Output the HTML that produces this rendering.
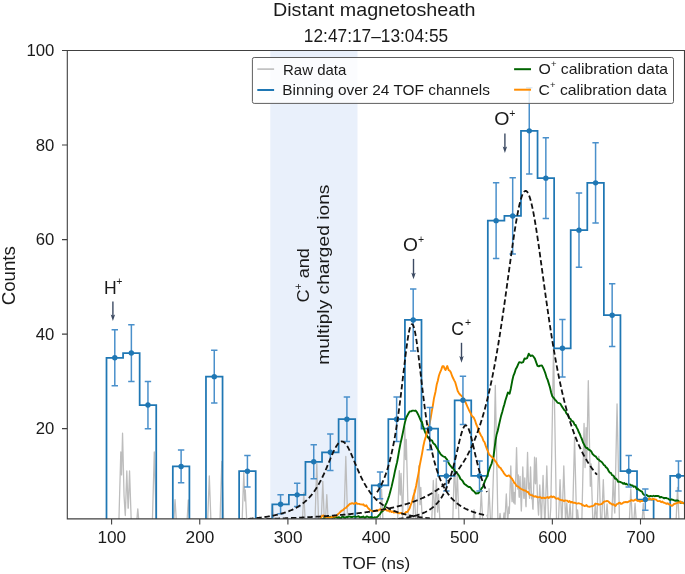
<!DOCTYPE html><html><head><meta charset="utf-8"><style>html,body{margin:0;padding:0;background:#fff;}svg{display:block;will-change:transform;}text{font-family:"Liberation Sans",sans-serif;fill:#1a1a1a;}</style></head><body>
<svg width="685" height="574" viewBox="0 0 685 574">
<defs><clipPath id="pc"><rect x="67.3" y="50.5" width="617.2" height="468.4"/></clipPath></defs>
<rect width="685" height="574" fill="#fff"/>
<rect x="270.3" y="50.5" width="87.2" height="468.4" fill="#e9f0fb"/>
<g clip-path="url(#pc)">
<path d="M118.55,526.2 L118.8,524.67 L120.8,452 L121.3,470.17 L121.55,474.9 L122.55,433.2 L124.05,495.76 L125.05,512.58 L125.3,515.56 L125.55,508.2 L126.8,470.9 L128.05,508.2 L128.3,508.2 L129.55,470.9 L131.3,523.13 L131.55,526.2 M136.3,526.2 L136.55,523.56 L137.8,508.8 L139.05,523.56 L139.3,526.2 M152.05,526.2 L152.3,524.67 L154.3,452 L156.3,524.67 L156.55,526.2 M173.3,526.2 L173.55,525.08 L175.05,499.6 L176.55,525.08 L176.8,526.2 M186.55,526.2 L186.8,525.16 L188.3,500 L189.8,525.16 L190.05,526.2 M207.3,526.2 L207.55,524.75 L209.3,476 L211.05,524.75 L211.3,526.2 M219.8,526.2 L220.05,519.65 L221.8,461.5 L223.55,519.65 L223.8,526.2 M241.8,526.2 L242.05,523.56 L243.8,472.2 L244.55,494.21 L244.8,500.89 L245.3,490 L246.8,522.67 L247.05,526.2 M270.8,526.2 L271.05,526.03 L272.55,505 L274.05,526.03 L274.3,526.2 M302.05,526.2 L302.3,523.49 L303.8,492.9 L305.3,523.49 L305.55,526.2 M314.8,526.2 L315.05,520.44 L316.8,463.5 L318.55,520.44 L318.8,526.2 M321.05,526.2 L322.8,481.3 L324.3,519.81 L324.55,526.2 M325.05,526.2 L325.3,523.93 L326.8,494.6 L328.3,523.93 L328.55,526.2 M343.8,526.2 L345.8,456.4 L347.55,517.54 L347.8,526.2 M379.8,526.2 L380.05,522.43 L381.55,489.2 L383.05,522.43 L383.3,526.2 M397.3,526.2 L397.55,523.02 L399.3,470.6 L400.05,493.07 L400.3,494.99 L401.05,473.3 L402.55,516.68 L402.8,513.56 L404.8,427 L405.55,459.46 L405.8,459.5 L406.3,439.5 L408.3,519.52 L408.55,526.2 M412.55,526.2 L412.8,522.67 L414.3,490 L415.8,522.67 L416.05,526.2 M416.8,526.2 L417.05,521.39 L418.8,466 L419.8,497.65 L420.05,504.71 L420.8,487.5 L422.3,521.91 L422.55,526.2 M431.3,526.2 L431.55,525.99 L433.3,480.4 L434.55,512.97 L434.8,518.8 L436.3,478.6 L437.55,512.1 L437.8,509.2 L438.55,494.5 L440.05,523.91 L440.3,526.2 M452.55,526.2 L452.8,519.37 L454.55,460.8 L455.8,502.64 L456.05,508.52 L457.3,471.5 L459.05,523.33 L459.3,526.2 M472.55,526.2 L472.8,523.78 L474.05,509.7 L475.3,523.78 L475.55,526.2 M479.55,526.2 L479.8,523.07 L481.3,491.4 L482.8,523.07 L483.05,526.2 M487.3,526.2 L487.55,522.28 L489.05,488.7 L490.55,522.28 L490.8,526.2 M491.55,526.2 L491.8,522.82 L493.55,470 L493.8,463.46 L495.3,385.5 L497.8,515.44 L498.05,526.2 M498.55,526.2 L498.8,524.6 L500.05,513.4 L501.3,524.6 L501.55,526.2 M502.55,526.2 L502.8,524.52 L504.05,513 L504.8,519.91 L505.05,518.82 L506.3,494 L507.55,518.82 L507.8,519.87 L508.8,507 L509.3,513.43 L510.8,466 L511.8,497.65 L512.05,501.71 L512.8,483 L513.55,501.71 L513.8,502.79 L514.3,492.5 L514.8,502.79 L515.05,504.12 L516.55,447.6 L517.55,485.28 L517.8,489.05 L518.3,474.9 L519.05,496.12 L519.3,497.24 L520.05,476.5 L521.3,511.07 L521.55,506.06 L522.8,466.9 L523.8,498.23 L524.05,498.29 L524.8,478 L525.8,505.05 L526.05,506.72 L527.55,452.4 L528.55,488.61 L528.8,483 L529.3,495.47 L529.55,498.23 L530.55,466.9 L531.55,498.23 L531.8,498.96 L532.05,494 L532.8,508.89 L533.05,509.21 L534.55,457.2 L535.3,483.21 L535.55,483.81 L536.3,458 L537.3,492.41 L537.55,499 L538.3,511.98 L538.55,515.08 L539.8,485 L541.3,521.1 L541.55,517.55 L543.05,475.4 L544.8,524.57 L545.05,521.39 L546.8,466 L548.55,521.39 L548.8,526.2 M549.3,526.2 L549.55,525.88 L550.55,511.29 L550.8,507 L553.55,348 L556.55,521.46 L556.8,526.2 M558.05,526.2 L558.3,525.8 L560.05,479.7 L561.8,525.8 L562.05,521.39 L563.8,466 L565.55,521.39 L565.8,518.14 L566.8,503 L568.3,525.72 L568.55,525.88 L570.05,504 L571.55,525.88 L571.8,526.2 M572.3,526.2 L572.55,518.84 L574.55,438 L576.55,518.84 L576.8,518.31 L577.55,510 L578.8,523.85 L579.05,526.2 M581.55,526.2 L581.8,522.76 L584.05,423.4 L585.05,467.56 L585.3,459.95 L586.05,427.6 L586.8,459.92 L588.3,380.7 L590.3,486.33 L590.55,480.02 L591.05,463.8 L592.8,520.56 L593.05,526.2 M593.55,526.2 L593.8,525.88 L595.3,504 L596.8,525.88 L597.05,517.49 L598.8,456.3 L600.55,517.49 L600.8,526.2 M601.3,526.2 L601.55,525.8 L603.3,479.7 L605.05,525.8 L605.3,526.2 M605.3,526.2 L605.55,525.88 L607.05,504 L608.55,525.88 L608.8,526.2 M611.3,526.2 L611.55,524.9 L613.3,476.5 L614.55,511.07 L614.8,513.02 L617.05,404 L619.55,525.13 L619.8,526.2 M629.05,526.2 L629.3,522.37 L630.8,489 L632.3,522.37 L632.55,526.2 M633.3,526.2 L633.55,525.78 L635.05,503.4 L636.55,525.78 L636.8,526.2 M641.55,526.2 L641.8,525.78 L643.3,503.4 L644.8,525.78 L645.05,526.2 M675.8,526.2 L676.05,521.88 L677.55,487.4 L679.05,521.88 L679.3,526.2" fill="none" stroke="#bdbdbd" stroke-width="1.3" stroke-linejoin="round"/>
<path d="M62.3,525.2 L106.5,525.2 L106.5,357.75 L123.08,357.75 L123.08,353.03 L139.66,353.03 L139.66,405.03 L156.24,405.03 L156.24,525.2 L172.82,525.2 L172.82,466.48 L189.4,466.48 L189.4,525.2 L205.97,525.2 L205.97,376.66 L222.55,376.66 L222.55,525.2 L239.13,525.2 L239.13,471.2 L255.71,471.2 L255.71,525.2 L272.29,525.2 L272.29,504.29 L288.87,504.29 L288.87,494.84 L305.45,494.84 L305.45,461.75 L322.03,461.75 L322.03,452.3 L338.61,452.3 L338.61,419.21 L355.19,419.21 L355.19,525.2 L371.76,525.2 L371.76,485.38 L388.34,485.38 L388.34,419.21 L404.92,419.21 L404.92,319.94 L421.5,319.94 L421.5,428.66 L438.08,428.66 L438.08,475.93 L454.66,475.93 L454.66,400.3 L471.24,400.3 L471.24,475.93 L487.82,475.93 L487.82,220.67 L504.4,220.67 L504.4,215.95 L520.98,215.95 L520.98,130.86 L537.55,130.86 L537.55,178.13 L554.13,178.13 L554.13,348.3 L570.71,348.3 L570.71,230.13 L587.29,230.13 L587.29,182.86 L603.87,182.86 L603.87,315.21 L620.45,315.21 L620.45,471.2 L637.03,471.2 L637.03,499.57 L653.61,499.57 L653.61,525.2 L670.19,525.2 L670.19,475.93 L686.76,475.93" fill="none" stroke="#1f77b4" stroke-width="1.75" stroke-linejoin="miter"/>
<path d="M322,518.95 L322.53,519.46 L323.47,518.57 L325.6,517.23 L326.3,517.53 L327.1,517.42 L327.99,517.69 L328.96,517.88 L329.99,516.84 L331.07,516.74 L332.19,517.97 L333.34,517.38 L334.5,517.88 L335.65,516.76 L336.79,517.43 L337.91,517.85 L338.98,517.11 L340,518.17 L341.05,518.08 L342.06,516.74 L343.05,516.69 L344.03,517.42 L345,517.97 L345.96,517.09 L346.93,516.8 L347.91,517.06 L348.92,516.42 L349.95,516.67 L351.02,516.96 L352.14,517.02 L353.3,516.6 L354.25,516.58 L355.26,516.55 L356.33,516.91 L357.44,516.64 L358.59,516.24 L359.75,517.46 L360.93,517.03 L362.11,517.16 L363.28,516.48 L364.43,517.69 L365.55,517.5 L366.63,516.39 L367.65,516.72 L368.61,517.31 L369.5,517.3 L370.3,517.65 L371,516.88 L373.05,517.63 L374.07,517.61 L374.68,517.18 L375.5,517.43 L376.63,517.37 L377.76,516.56 L378.88,515.11 L380,514.13 L381.07,512.23 L382.11,511.42 L383.2,510.73 L384.4,507.87 L385.5,505 L386.71,502.55 L387.95,499.41 L389.17,495.77 L390.3,491.61 L391.6,486.63 L392.83,481.16 L393.97,476.09 L395,470.93 L396.14,465.93 L397.1,462.14 L398,457.29 L399.29,449.64 L400.5,443.31 L401.59,438.7 L402.8,433.04 L403.88,427.66 L405.09,421.65 L406.3,417.5 L407.5,415.26 L408.7,412.99 L409.8,411.36 L411.12,411.34 L412.4,410.6 L413.45,410.66 L414.56,410.92 L415.6,410.52 L416.88,412.16 L418.1,414.45 L419.53,417.58 L420.9,420.99 L421.94,422.01 L422.9,425.73 L423.95,428.84 L425.1,432.08 L426.38,434.79 L427.9,437.56 L428.85,438.22 L429.92,439.24 L431.02,439.99 L432.1,440.53 L433.13,443.02 L434.15,443.92 L435.17,444.82 L436.2,446.81 L437.21,448.48 L438.21,450.13 L439.25,451.93 L440.4,453.86 L441.45,455.08 L442.61,456.01 L443.79,456.68 L444.95,456.96 L446,458.29 L447.12,459.68 L448.1,461.85 L449.08,463.89 L450.2,465.45 L451.24,466.79 L452.38,468.2 L453.56,468.75 L454.72,471.03 L455.8,472.16 L457.01,472.97 L458.14,474.56 L459.28,476.25 L460.5,479.08 L461.61,479.81 L462.81,481.2 L464.02,483.53 L465.18,484.49 L466.2,485.15 L467.55,486.16 L468.67,486.96 L469.8,486.9 L471.03,488.13 L472.26,490.09 L473.5,490.93 L474.71,492.08 L475.91,493.59 L477.2,493.29 L478.25,493.23 L479.35,492.11 L480.48,490.18 L481.6,488.21 L482.72,487.22 L483.85,484.08 L484.98,480.87 L486.1,478.66 L487.24,476.08 L488.39,471.83 L489.5,468.78 L490.5,466.07 L491.64,463.6 L492.62,459.61 L493.5,456.61 L494.46,449.02 L495.6,440.07 L496.54,434.84 L497.66,430.94 L498.87,425.55 L500.1,420.12 L501.14,415.63 L502.25,412.09 L503.37,407.64 L504.42,404.2 L505.3,400.73 L506.82,396 L507.9,392.44 L509.6,393.7 L510.84,388.41 L512.3,380.56 L513.38,375.86 L514.53,373.24 L515.7,369.32 L516.89,367.28 L518.1,364.35 L519.2,362.17 L520.55,362.34 L521.8,362.76 L523.15,362.11 L524.5,358.51 L525.86,358.75 L527.1,358.09 L528.8,353.71 L530.5,356.01 L532.3,355.35 L533.55,356.67 L534.9,358.61 L536.2,362.43 L537.5,365.92 L538.85,366.41 L540.1,365.66 L541.9,365.56 L542.94,367.36 L544.18,370.22 L545.4,373.41 L546.54,377.29 L547.66,379.88 L548.8,383.6 L549.99,387.47 L551.2,392.7 L552.3,396.3 L553.66,397.83 L554.9,399.65 L556.12,400.8 L557.4,402.53 L558.36,402.96 L559.39,403.14 L560.5,404.07 L561.66,406.12 L562.91,407.98 L564.4,410.25 L565.29,410.73 L566.27,413.11 L567.31,414.51 L568.39,415.94 L569.46,418.38 L570.5,418.8 L571.53,420.89 L572.57,421.15 L573.61,422.44 L574.63,424.76 L575.64,425.04 L576.6,427.39 L577.72,429.39 L578.83,432.32 L579.89,434.29 L580.88,436.78 L581.8,438.89 L583.03,442.54 L584.07,444.35 L585.3,446.88 L586.23,447.94 L587.26,447.86 L588.34,449.48 L589.43,449.8 L590.5,450.71 L591.51,451.77 L592.49,453.94 L593.49,454.82 L594.54,455.94 L595.7,456.36 L596.65,457.72 L597.71,459.04 L598.82,459.56 L599.93,460.97 L600.99,461.5 L601.93,462.22 L602.7,463.25 L603.85,464.99 L605,465.6 L605.74,467.1 L606.62,467.63 L607.61,468.76 L608.67,471.03 L609.78,472.62 L610.9,472.85 L612,475.16 L612.97,475.36 L613.97,476.49 L614.99,478.71 L616.02,478.49 L617.07,479.76 L618.12,481.78 L619.17,481.72 L620.2,481.92 L621.22,482.48 L622.22,482.9 L623.23,483.84 L624.23,482.99 L625.24,484.29 L626.27,483.61 L627.32,484.69 L628.4,484.91 L629.39,484.37 L630.41,484.73 L631.46,485.52 L632.52,485.45 L633.58,486.81 L634.64,486.44 L635.69,486.97 L636.71,489.02 L637.7,488.59 L638.79,489.8 L639.88,490.43 L640.96,491.14 L642.02,491.69 L643.05,493.87 L644.04,494.77 L645,495.47 L645.9,494.72 L647.16,495.36 L648.22,496.11 L649.24,496.62 L650.35,495.91 L651.7,496.18 L652.59,496.24 L653.57,495.73 L654.61,496.25 L655.7,496.01 L656.81,496.03 L657.93,495.91 L659.03,496.35 L660.09,497.56 L661.1,496.92 L662.17,497.44 L663.21,497.67 L664.23,498.38 L665.23,497.83 L666.21,497.99 L667.2,498.3 L668.19,498.56 L669.2,499.62 L670.25,499.95 L671.35,499.32 L672.47,499.62 L673.58,500.19 L674.66,500.49 L675.67,500.76 L676.59,500.48 L677.4,500.38 L678.89,501.37 L679.87,501.75 L681,502.98 L681.99,502.46 L683.14,502.62 L684.29,503.56 L685.3,503.12 L686,503.5" fill="none" stroke="#006400" stroke-width="1.9" stroke-linejoin="round"/>
<path d="M320,519.68 L320.74,518.72 L321.86,516.11 L323.4,515.38 L324.21,516.54 L325.12,516.66 L326.12,516.94 L327.18,516.82 L328.29,517.62 L329.44,517.82 L330.6,517.72 L331.53,516.86 L332.51,516.94 L333.53,516.46 L334.56,516.46 L335.61,516.31 L336.66,515.63 L337.7,514.38 L338.72,513.58 L339.7,512.65 L340.78,511.5 L341.86,510.57 L342.93,510.24 L343.99,509 L345.02,508.1 L346.02,507.93 L346.98,506.54 L347.9,505.89 L349.04,504.67 L350.09,503.76 L351.07,503.75 L352.04,503.11 L353,503.41 L354,503.95 L355.03,503.36 L356.06,502.63 L357.1,503.8 L358.14,503.82 L359.17,503.93 L360.2,504.41 L361.24,504.42 L362.31,504.7 L363.37,504.33 L364.4,505.61 L365.39,505.99 L366.3,505.29 L367.49,507.25 L368.54,508.54 L369.54,509.44 L370.6,510.45 L371.73,510.78 L372.89,511.51 L374.07,510.77 L375.3,511.1 L376.35,510.17 L377.46,510.64 L378.57,510.3 L379.64,509.33 L380.6,509.3 L381.86,509.83 L382.94,509.74 L384.2,509.68 L385.15,509.49 L386.19,509.91 L387.29,510.76 L388.41,510.24 L389.5,511.61 L390.58,510.88 L391.66,512.07 L392.74,511.38 L393.82,512.56 L394.9,512.41 L396,512.36 L397.11,512.65 L398.21,513.12 L399.26,513.26 L400.2,513.02 L401.5,513.05 L402.59,513.57 L403.7,514.05 L404.9,513.26 L406.1,511.89 L407.3,511.98 L408.5,510.19 L409.7,508.34 L410.8,504.84 L412.2,501.49 L413.5,495.74 L414.8,492 L416.2,485.46 L417.3,479.52 L418.5,473.62 L419.7,465.61 L420.9,459.53 L422.1,453.34 L423.3,446.32 L424.5,440.88 L425.7,437.07 L426.8,432.28 L428.09,429.49 L429.5,423.8 L430.54,418.84 L431.74,411.53 L432.95,405.07 L434,398.17 L435.55,391.45 L436.8,384.19 L437.81,380.79 L438.9,375.78 L440.01,372.56 L441.29,369.66 L442.4,366.19 L443.61,366.18 L444.5,368.39 L445.5,370.03 L447.3,366.01 L448.7,370.24 L449.75,370.68 L450.8,372.3 L452.2,376.27 L453.16,378.25 L454.2,380.36 L455.29,382.39 L456.3,385.96 L457.7,391.1 L459.01,393.3 L460.5,395 L461.9,396.18 L463.3,398 L464.7,400.32 L466.1,403.54 L467.5,406.81 L468.9,409.96 L470.27,412.47 L471.7,415.74 L472.75,416.69 L473.85,417.78 L475,420.32 L476.13,424.01 L477.3,426.56 L478.7,431.03 L479.75,432.97 L480.93,435.43 L482.17,437.19 L483.39,440.75 L484.5,442.04 L485.68,445.63 L486.74,448.55 L487.8,450.98 L489,454.39 L489.93,455.15 L490.95,456.19 L492.01,457.18 L493.06,458.3 L494.08,459.12 L495,460.9 L496.18,462.17 L497.21,464.26 L498.23,465.63 L499.4,467.34 L500.51,467.8 L501.72,469.95 L502.97,471.52 L504.19,473.69 L505.3,474.99 L506.53,475.98 L507.64,475.96 L508.71,475.36 L509.8,476.18 L510.87,477.65 L511.91,478.58 L513,480.48 L514.2,482.76 L515.28,483.6 L516.45,485.82 L517.67,486.34 L518.9,487.26 L520.1,488.32 L521.28,489.06 L522.45,489.46 L523.63,490.24 L524.81,490.52 L526,490.81 L527.03,491.95 L528.11,492.06 L529.19,493.91 L530.24,494.79 L531.22,495.17 L532.1,495.3 L533.43,496.15 L534.49,496.67 L535.8,496.23 L536.84,497.02 L538.01,497.4 L539.24,497.08 L540.49,497.1 L541.7,498.25 L542.86,497.6 L544.02,497.76 L545.18,498.25 L546.34,497.66 L547.5,497.08 L548.69,498.02 L549.92,496.98 L551.13,496.34 L552.3,497.3 L553.4,496.5 L554.61,497.13 L555.7,498.42 L556.79,498.73 L558,498.27 L559.14,499.35 L560.38,499.75 L561.65,500.32 L562.85,500.29 L563.9,501.13 L565.24,500.47 L566.32,500.67 L567.4,500.81 L568.48,501.93 L569.56,501.05 L570.9,502.48 L571.93,501.87 L573.11,502.68 L574.35,502.65 L575.57,503 L576.7,503.68 L577.9,503.43 L578.98,503.3 L580.09,503.6 L581.4,503.87 L582.3,505.26 L583.32,505.21 L584.39,505.97 L585.48,505.85 L586.54,505.11 L587.53,506.28 L588.4,506.62 L589.66,506.71 L590.71,506.45 L591.63,506.19 L592.5,506.14 L593.91,505.5 L595.4,503.55 L596.45,503.83 L597.64,503.85 L598.88,504.68 L600.1,504.36 L601.3,504.13 L602.53,503.37 L603.71,501.94 L604.8,501.4 L605.96,501.4 L606.99,500.88 L608.3,501.39 L609.17,502.22 L610.16,503.26 L611.22,503.57 L612.3,504.7 L613.35,504.24 L614.3,504.98 L615.51,505.89 L616.59,504.13 L617.69,503.89 L619,502.85 L619.87,502.69 L620.8,503.75 L621.78,503.74 L622.8,503.09 L623.85,502.15 L624.92,502.22 L626,501.9 L626.98,502.3 L628.02,501.99 L629.09,501.28 L630.17,501.04 L631.25,500.08 L632.29,500.42 L633.28,500.81 L634.2,500.38 L635.51,499.43 L636.69,500.33 L637.79,500.98 L638.87,500.6 L640,501.69 L641.16,500.96 L642.3,501.11 L643.46,500.39 L644.65,500.99 L645.9,500.42 L646.84,499.95 L647.82,499.11 L648.82,499.36 L649.84,498.57 L650.87,499.28 L651.89,499.65 L652.9,498.62 L653.91,499.25 L654.93,499.44 L655.96,499.62 L656.98,500.42 L657.99,501.11 L658.96,501.11 L659.9,501.06 L661.12,502.16 L662.25,501.56 L663.35,502.52 L664.48,502.75 L665.7,503.29 L666.66,503.78 L667.68,503.26 L668.74,504.31 L669.8,504.41 L670.83,505.16 L671.81,505.86 L672.7,505.4 L673.95,504.03 L674.95,503.8 L676,503.22 L677.4,502.87 L678.35,502.44 L679.48,502.69 L680.72,501.57 L681.99,503.08 L683.23,502.91 L684.36,502.87 L685.31,503.44 L686,502.9" fill="none" stroke="#ff8c00" stroke-width="1.9" stroke-linejoin="round"/>
<path d="M114.79,329.79 V385.72 M111.59,329.79 H117.99 M111.59,385.72 H117.99 M131.37,324.67 V381.39 M128.17,324.67 H134.57 M128.17,381.39 H134.57 M147.95,381.39 V428.66 M144.75,381.39 H151.15 M144.75,428.66 H151.15 M181.11,450.1 V482.85 M177.91,450.1 H184.31 M177.91,482.85 H184.31 M214.26,350.34 V402.98 M211.06,350.34 H217.46 M211.06,402.98 H217.46 M247.42,455.53 V486.88 M244.22,455.53 H250.62 M244.22,486.88 H250.62 M280.58,494.84 V513.75 M277.38,494.84 H283.78 M277.38,513.75 H283.78 M297.16,483.26 V506.42 M293.96,483.26 H300.36 M293.96,506.42 H300.36 M313.74,444.71 V478.79 M310.54,444.71 H316.94 M310.54,478.79 H316.94 M330.32,433.99 V470.6 M327.12,433.99 H333.52 M327.12,470.6 H333.52 M346.9,397.03 V441.38 M343.7,397.03 H350.1 M343.7,441.38 H350.1 M380.05,472.01 V498.75 M376.85,472.01 H383.25 M376.85,498.75 H383.25 M396.63,397.03 V441.38 M393.43,397.03 H399.83 M393.43,441.38 H399.83 M413.21,288.94 V350.94 M410.01,288.94 H416.41 M410.01,350.94 H416.41 M429.79,407.52 V449.8 M426.59,407.52 H432.99 M426.59,449.8 H432.99 M446.37,460.98 V490.88 M443.17,460.98 H449.57 M443.17,490.88 H449.57 M462.95,376.19 V424.4 M459.75,376.19 H466.15 M459.75,424.4 H466.15 M479.53,460.98 V490.88 M476.33,460.98 H482.73 M476.33,490.88 H482.73 M496.11,182.86 V258.49 M492.91,182.86 H499.31 M492.91,258.49 H499.31 M512.69,177.83 V254.06 M509.49,177.83 H515.89 M509.49,254.06 H515.89 M529.26,87.79 V173.92 M526.06,87.79 H532.46 M526.06,173.92 H532.46 M545.84,137.74 V218.52 M542.64,137.74 H549.04 M542.64,218.52 H549.04 M562.42,319.55 V377.05 M559.22,319.55 H565.62 M559.22,377.05 H565.62 M579,192.91 V267.35 M575.8,192.91 H582.2 M575.8,267.35 H582.2 M595.58,142.75 V222.97 M592.38,142.75 H598.78 M592.38,222.97 H598.78 M612.16,283.86 V346.57 M608.96,283.86 H615.36 M608.96,346.57 H615.36 M628.74,455.53 V486.88 M625.54,455.53 H631.94 M625.54,486.88 H631.94 M645.32,489 V510.13 M642.12,489 H648.52 M642.12,510.13 H648.52 M678.48,460.98 V490.88 M675.28,460.98 H681.68 M675.28,490.88 H681.68" fill="none" stroke="#4a90cb" stroke-width="1.5"/>
<g fill="#1f77b4"><circle cx="114.79" cy="357.75" r="2.7"/><circle cx="131.37" cy="353.03" r="2.7"/><circle cx="147.95" cy="405.03" r="2.7"/><circle cx="181.11" cy="466.48" r="2.7"/><circle cx="214.26" cy="376.66" r="2.7"/><circle cx="247.42" cy="471.2" r="2.7"/><circle cx="280.58" cy="504.29" r="2.7"/><circle cx="297.16" cy="494.84" r="2.7"/><circle cx="313.74" cy="461.75" r="2.7"/><circle cx="330.32" cy="452.3" r="2.7"/><circle cx="346.9" cy="419.21" r="2.7"/><circle cx="380.05" cy="485.38" r="2.7"/><circle cx="396.63" cy="419.21" r="2.7"/><circle cx="413.21" cy="319.94" r="2.7"/><circle cx="429.79" cy="428.66" r="2.7"/><circle cx="446.37" cy="475.93" r="2.7"/><circle cx="462.95" cy="400.3" r="2.7"/><circle cx="479.53" cy="475.93" r="2.7"/><circle cx="496.11" cy="220.67" r="2.7"/><circle cx="512.69" cy="215.95" r="2.7"/><circle cx="529.26" cy="130.86" r="2.7"/><circle cx="545.84" cy="178.13" r="2.7"/><circle cx="562.42" cy="348.3" r="2.7"/><circle cx="579" cy="230.13" r="2.7"/><circle cx="595.58" cy="182.86" r="2.7"/><circle cx="612.16" cy="315.21" r="2.7"/><circle cx="628.74" cy="471.2" r="2.7"/><circle cx="645.32" cy="499.57" r="2.7"/><circle cx="678.48" cy="475.93" r="2.7"/></g>
<path d="M240,519.55 L240.5,519.52 L241,519.48 L241.5,519.45 L242,519.41 L242.5,519.37 L243,519.34 L243.5,519.3 L244,519.26 L244.5,519.22 L245,519.18 L245.5,519.14 L246,519.1 L246.5,519.06 L247,519.02 L247.5,518.98 L248,518.94 L248.5,518.89 L249,518.85 L249.5,518.8 L250,518.76 L250.5,518.71 L251,518.67 L251.5,518.62 L252,518.57 L252.5,518.52 L253,518.47 L253.5,518.42 L254,518.37 L254.5,518.32 L255,518.26 L255.5,518.21 L256,518.16 L256.5,518.1 L257,518.04 L257.5,517.99 L258,517.93 L258.5,517.87 L259,517.81 L259.5,517.75 L260,517.68 L260.5,517.62 L261,517.56 L261.5,517.49 L262,517.42 L262.5,517.36 L263,517.29 L263.5,517.22 L264,517.15 L264.5,517.07 L265,517 L265.5,516.92 L266,516.85 L266.5,516.77 L267,516.69 L267.5,516.61 L268,516.53 L268.5,516.44 L269,516.36 L269.5,516.27 L270,516.18 L270.5,516.09 L271,516 L271.5,515.91 L272,515.81 L272.5,515.71 L273,515.61 L273.5,515.51 L274,515.41 L274.5,515.3 L275,515.2 L275.5,515.09 L276,514.98 L276.5,514.86 L277,514.75 L277.5,514.63 L278,514.51 L278.5,514.39 L279,514.26 L279.5,514.13 L280,514 L280.5,513.87 L281,513.73 L281.5,513.59 L282,513.45 L282.5,513.31 L283,513.16 L283.5,513.01 L284,512.85 L284.5,512.69 L285,512.53 L285.5,512.37 L286,512.2 L286.5,512.03 L287,511.85 L287.5,511.67 L288,511.48 L288.5,511.3 L289,511.1 L289.5,510.91 L290,510.7 L290.5,510.5 L291,510.28 L291.5,510.07 L292,509.85 L292.5,509.62 L293,509.39 L293.5,509.15 L294,508.91 L294.5,508.66 L295,508.4 L295.5,508.14 L296,507.87 L296.5,507.59 L297,507.31 L297.5,507.02 L298,506.73 L298.5,506.42 L299,506.11 L299.5,505.79 L300,505.46 L300.5,505.12 L301,504.78 L301.5,504.42 L302,504.06 L302.5,503.69 L303,503.3 L303.5,502.91 L304,502.51 L304.5,502.09 L305,501.67 L305.5,501.23 L306,500.78 L306.5,500.32 L307,499.85 L307.5,499.36 L308,498.86 L308.5,498.35 L309,497.83 L309.5,497.28 L310,496.73 L310.5,496.16 L311,495.57 L311.5,494.97 L312,494.35 L312.5,493.72 L313,493.07 L313.5,492.4 L314,491.71 L314.5,491 L315,490.28 L315.5,489.53 L316,488.77 L316.5,487.99 L317,487.19 L317.5,486.36 L318,485.52 L318.5,484.66 L319,483.77 L319.5,482.87 L320,481.94 L320.5,480.99 L321,480.02 L321.5,479.03 L322,478.02 L322.5,476.99 L323,475.94 L323.5,474.87 L324,473.78 L324.5,472.67 L325,471.55 L325.5,470.4 L326,469.25 L326.5,468.08 L327,466.9 L327.5,465.71 L328,464.51 L328.5,463.31 L329,462.1 L329.5,460.9 L330,459.69 L330.5,458.49 L331,457.3 L331.5,456.13 L332,454.96 L332.5,453.82 L333,452.7 L333.5,451.61 L334,450.55 L334.5,449.53 L335,448.55 L335.5,447.62 L336,446.74 L336.5,445.91 L337,445.14 L337.5,444.43 L338,443.79 L338.5,443.22 L339,442.73 L339.5,442.31 L340,441.97 L340.5,441.71 L341,441.53 L341.5,441.44 L342,441.43 L342.5,441.51 L343,441.67 L343.5,441.91 L344,442.23 L344.5,442.64 L345,443.12 L345.5,443.67 L346,444.3 L346.5,444.99 L347,445.75 L347.5,446.57 L348,447.44 L348.5,448.36 L349,449.33 L349.5,450.35 L350,451.4 L350.5,452.48 L351,453.6 L351.5,454.73 L352,455.89 L352.5,457.07 L353,458.25 L353.5,459.45 L354,460.66 L354.5,461.86 L355,463.07 L355.5,464.27 L356,465.47 L356.5,466.66 L357,467.85 L357.5,469.02 L358,470.17 L358.5,471.32 L359,472.45 L359.5,473.56 L360,474.65 L360.5,475.72 L361,476.78 L361.5,477.81 L362,478.83 L362.5,479.82 L363,480.8 L363.5,481.75 L364,482.68 L364.5,483.59 L365,484.48 L365.5,485.35 L366,486.2 L366.5,487.02 L367,487.83 L367.5,488.62 L368,489.38 L368.5,490.13 L369,490.86 L369.5,491.57 L370,492.26 L370.5,492.93 L371,493.59 L371.5,494.23 L372,494.85 L372.5,495.45 L373,496.04 L373.5,496.62 L374,497.17 L374.5,497.72 L375,498.25 L375.5,498.76 L376,499.26 L376.5,499.75 L377,500.23 L377.5,500.69 L378,501.14 L378.5,501.58 L379,502.01 L379.5,502.43 L380,502.83 L380.5,503.23 L381,503.61 L381.5,503.99 L382,504.35 L382.5,504.71 L383,505.06 L383.5,505.39 L384,505.72 L384.5,506.05 L385,506.36 L385.5,506.66 L386,506.96 L386.5,507.25 L387,507.54 L387.5,507.81 L388,508.08 L388.5,508.35 L389,508.6 L389.5,508.86 L390,509.1 L390.5,509.34 L391,509.57 L391.5,509.8 L392,510.02 L392.5,510.24 L393,510.45 L393.5,510.66 L394,510.87 L394.5,511.06 L395,511.26 L395.5,511.45 L396,511.63 L396.5,511.81 L397,511.99 L397.5,512.16 L398,512.33 L398.5,512.5 L399,512.66 L399.5,512.82 L400,512.98 L400.5,513.13 L401,513.28 L401.5,513.42 L402,513.57 L402.5,513.7 L403,513.84 L403.5,513.98 L404,514.11 L404.5,514.24 L405,514.36 L405.5,514.49 L406,514.61 L406.5,514.72 L407,514.84 L407.5,514.95 L408,515.07 L408.5,515.18 L409,515.28 L409.5,515.39 L410,515.49 L410.5,515.59 L411,515.69 L411.5,515.79 L412,515.89 L412.5,515.98 L413,516.07 L413.5,516.16 L414,516.25 L414.5,516.34 L415,516.43 L415.5,516.51 L416,516.59 L416.5,516.67 L417,516.75 L417.5,516.83 L418,516.91 L418.5,516.98 L419,517.06 L419.5,517.13 L420,517.2 L420.5,517.27 L421,517.34 L421.5,517.41 L422,517.48 L422.5,517.54 L423,517.61 L423.5,517.67 L424,517.73 L424.5,517.8 L425,517.86 L425.5,517.92 L426,517.97 L426.5,518.03 L427,518.09 L427.5,518.14 L428,518.2 L428.5,518.25 L429,518.31 L429.5,518.36 L430,518.41 M377,492.32 L377.5,491.56 L378,490.78 L378.5,489.96 L379,489.12 L379.5,488.25 L380,487.35 L380.5,486.42 L381,485.45 L381.5,484.44 L382,483.4 L382.5,482.32 L383,481.2 L383.5,480.03 L384,478.82 L384.5,477.57 L385,476.26 L385.5,474.91 L386,473.5 L386.5,472.04 L387,470.52 L387.5,468.94 L388,467.3 L388.5,465.59 L389,463.81 L389.5,461.97 L390,460.05 L390.5,458.05 L391,455.97 L391.5,453.81 L392,451.56 L392.5,449.22 L393,446.79 L393.5,444.26 L394,441.64 L394.5,438.91 L395,436.09 L395.5,433.15 L396,430.11 L396.5,426.96 L397,423.7 L397.5,420.32 L398,416.84 L398.5,413.25 L399,409.55 L399.5,405.75 L400,401.85 L400.5,397.86 L401,393.79 L401.5,389.64 L402,385.43 L402.5,381.17 L403,376.87 L403.5,372.56 L404,368.26 L404.5,363.99 L405,359.78 L405.5,355.65 L406,351.64 L406.5,347.78 L407,344.09 L407.5,340.63 L408,337.41 L408.5,334.47 L409,331.85 L409.5,329.57 L410,327.67 L410.5,326.16 L411,325.07 L411.5,324.41 L412,324.19 L412.5,324.41 L413,325.07 L413.5,326.16 L414,327.67 L414.5,329.57 L415,331.85 L415.5,334.47 L416,337.41 L416.5,340.63 L417,344.09 L417.5,347.78 L418,351.64 L418.5,355.65 L419,359.78 L419.5,363.99 L420,368.26 L420.5,372.56 L421,376.87 L421.5,381.17 L422,385.43 L422.5,389.64 L423,393.79 L423.5,397.86 L424,401.85 L424.5,405.75 L425,409.55 L425.5,413.25 L426,416.84 L426.5,420.32 L427,423.7 L427.5,426.96 L428,430.11 L428.5,433.15 L429,436.09 L429.5,438.91 L430,441.64 L430.5,444.26 L431,446.79 L431.5,449.22 L432,451.56 L432.5,453.81 L433,455.97 L433.5,458.05 L434,460.05 L434.5,461.97 L435,463.81 L435.5,465.59 L436,467.3 L436.5,468.94 L437,470.52 L437.5,472.04 L438,473.5 L438.5,474.91 L439,476.26 L439.5,477.57 L440,478.82 L440.5,480.03 L441,481.2 L441.5,482.32 L442,483.4 L442.5,484.44 L443,485.45 L443.5,486.42 L444,487.35 L444.5,488.25 L445,489.12 L445.5,489.96 L446,490.78 L446.5,491.56 L447,492.32 L447.5,493.05 L448,493.76 L448.5,494.45 L449,495.11 L449.5,495.75 L450,496.37 L450.5,496.97 L451,497.55 L451.5,498.12 L452,498.66 L452.5,499.19 L453,499.71 L453.5,500.21 L454,500.69 L454.5,501.16 L455,501.61 L455.5,502.05 L456,502.48 L456.5,502.9 L457,503.3 L457.5,503.69 L458,504.07 L458.5,504.44 L459,504.8 L459.5,505.15 L460,505.49 L460.5,505.83 L461,506.15 L461.5,506.46 L462,506.77 L462.5,507.07 L463,507.36 L463.5,507.64 L464,507.91 L464.5,508.18 L465,508.44 L465.5,508.7 L466,508.94 L466.5,509.19 L467,509.42 L467.5,509.65 L468,509.88 L468.5,510.1 L469,510.31 L469.5,510.52 L470,510.72 L470.5,510.92 L471,511.12 L471.5,511.31 L472,511.49 L472.5,511.68 L473,511.85 L473.5,512.03 L474,512.2 L474.5,512.36 L475,512.52 L475.5,512.68 L476,512.84 L476.5,512.99 L477,513.14 L477.5,513.28 L478,513.43 L478.5,513.56 L479,513.7 L479.5,513.83 L480,513.97 L480.5,514.09 L481,514.22 L481.5,514.34 L482,514.46 L482.5,514.58 L483,514.7 L483.5,514.81 L484,514.92 L484.5,515.03 L485,515.14 L485.5,515.24 L486,515.35 L486.5,515.45 L487,515.55 M390,519.75 L390.5,519.7 L391,519.66 L391.5,519.61 L392,519.56 L392.5,519.52 L393,519.47 L393.5,519.42 L394,519.37 L394.5,519.31 L395,519.26 L395.5,519.21 L396,519.15 L396.5,519.1 L397,519.04 L397.5,518.98 L398,518.92 L398.5,518.86 L399,518.8 L399.5,518.73 L400,518.67 L400.5,518.6 L401,518.53 L401.5,518.46 L402,518.39 L402.5,518.32 L403,518.25 L403.5,518.17 L404,518.09 L404.5,518.02 L405,517.93 L405.5,517.85 L406,517.77 L406.5,517.68 L407,517.59 L407.5,517.5 L408,517.41 L408.5,517.31 L409,517.21 L409.5,517.11 L410,517.01 L410.5,516.91 L411,516.8 L411.5,516.69 L412,516.57 L412.5,516.46 L413,516.34 L413.5,516.22 L414,516.09 L414.5,515.96 L415,515.83 L415.5,515.69 L416,515.55 L416.5,515.41 L417,515.26 L417.5,515.11 L418,514.95 L418.5,514.79 L419,514.63 L419.5,514.46 L420,514.29 L420.5,514.11 L421,513.92 L421.5,513.73 L422,513.54 L422.5,513.33 L423,513.13 L423.5,512.91 L424,512.69 L424.5,512.46 L425,512.23 L425.5,511.98 L426,511.73 L426.5,511.48 L427,511.21 L427.5,510.93 L428,510.65 L428.5,510.35 L429,510.05 L429.5,509.74 L430,509.41 L430.5,509.07 L431,508.73 L431.5,508.36 L432,507.99 L432.5,507.6 L433,507.2 L433.5,506.79 L434,506.36 L434.5,505.91 L435,505.45 L435.5,504.97 L436,504.47 L436.5,503.95 L437,503.41 L437.5,502.85 L438,502.27 L438.5,501.67 L439,501.04 L439.5,500.39 L440,499.71 L440.5,499.01 L441,498.27 L441.5,497.51 L442,496.71 L442.5,495.88 L443,495.02 L443.5,494.12 L444,493.19 L444.5,492.21 L445,491.2 L445.5,490.14 L446,489.04 L446.5,487.9 L447,486.7 L447.5,485.46 L448,484.17 L448.5,482.82 L449,481.43 L449.5,479.97 L450,478.47 L450.5,476.9 L451,475.28 L451.5,473.6 L452,471.86 L452.5,470.06 L453,468.21 L453.5,466.3 L454,464.33 L454.5,462.32 L455,460.27 L455.5,458.17 L456,456.03 L456.5,453.87 L457,451.69 L457.5,449.5 L458,447.31 L458.5,445.14 L459,442.99 L459.5,440.89 L460,438.85 L460.5,436.88 L461,435.01 L461.5,433.26 L462,431.64 L462.5,430.17 L463,428.87 L463.5,427.75 L464,426.84 L464.5,426.13 L465,425.65 L465.5,425.39 L466,425.37 L466.5,425.58 L467,426.02 L467.5,426.68 L468,427.55 L468.5,428.63 L469,429.9 L469.5,431.33 L470,432.93 L470.5,434.65 L471,436.5 L471.5,438.45 L472,440.48 L472.5,442.57 L473,444.71 L473.5,446.87 L474,449.06 L474.5,451.25 L475,453.44 L475.5,455.6 L476,457.74 L476.5,459.85 L477,461.92 L477.5,463.94 L478,465.91 L478.5,467.83 L479,469.69 L479.5,471.5 L480,473.25 L480.5,474.95 L481,476.58 L481.5,478.16 L482,479.68 L482.5,481.14 L483,482.55 L483.5,483.9 L484,485.21 L484.5,486.46 L485,487.66 L485.5,488.82 L486,489.93 L486.5,490.99 L487,492.01 M250,519.44 L250.5,519.42 L251,519.41 L251.5,519.39 L252,519.38 L252.5,519.37 L253,519.35 L253.5,519.34 L254,519.33 L254.5,519.31 L255,519.3 L255.5,519.28 L256,519.27 L256.5,519.25 L257,519.24 L257.5,519.22 L258,519.21 L258.5,519.2 L259,519.18 L259.5,519.17 L260,519.15 L260.5,519.14 L261,519.12 L261.5,519.1 L262,519.09 L262.5,519.07 L263,519.06 L263.5,519.04 L264,519.03 L264.5,519.01 L265,519 L265.5,518.98 L266,518.96 L266.5,518.95 L267,518.93 L267.5,518.91 L268,518.9 L268.5,518.88 L269,518.87 L269.5,518.85 L270,518.83 L270.5,518.81 L271,518.8 L271.5,518.78 L272,518.76 L272.5,518.75 L273,518.73 L273.5,518.71 L274,518.69 L274.5,518.68 L275,518.66 L275.5,518.64 L276,518.62 L276.5,518.6 L277,518.59 L277.5,518.57 L278,518.55 L278.5,518.53 L279,518.51 L279.5,518.49 L280,518.47 L280.5,518.45 L281,518.44 L281.5,518.42 L282,518.4 L282.5,518.38 L283,518.36 L283.5,518.34 L284,518.32 L284.5,518.3 L285,518.28 L285.5,518.26 L286,518.24 L286.5,518.22 L287,518.2 L287.5,518.18 L288,518.16 L288.5,518.13 L289,518.11 L289.5,518.09 L290,518.07 L290.5,518.05 L291,518.03 L291.5,518.01 L292,517.98 L292.5,517.96 L293,517.94 L293.5,517.92 L294,517.89 L294.5,517.87 L295,517.85 L295.5,517.83 L296,517.8 L296.5,517.78 L297,517.76 L297.5,517.73 L298,517.71 L298.5,517.69 L299,517.66 L299.5,517.64 L300,517.61 L300.5,517.59 L301,517.56 L301.5,517.54 L302,517.51 L302.5,517.49 L303,517.46 L303.5,517.44 L304,517.41 L304.5,517.39 L305,517.36 L305.5,517.34 L306,517.31 L306.5,517.28 L307,517.26 L307.5,517.23 L308,517.2 L308.5,517.18 L309,517.15 L309.5,517.12 L310,517.09 L310.5,517.07 L311,517.04 L311.5,517.01 L312,516.98 L312.5,516.95 L313,516.92 L313.5,516.89 L314,516.86 L314.5,516.83 L315,516.81 L315.5,516.78 L316,516.75 L316.5,516.71 L317,516.68 L317.5,516.65 L318,516.62 L318.5,516.59 L319,516.56 L319.5,516.53 L320,516.5 L320.5,516.46 L321,516.43 L321.5,516.4 L322,516.37 L322.5,516.33 L323,516.3 L323.5,516.27 L324,516.23 L324.5,516.2 L325,516.17 L325.5,516.13 L326,516.1 L326.5,516.06 L327,516.03 L327.5,515.99 L328,515.96 L328.5,515.92 L329,515.88 L329.5,515.85 L330,515.81 L330.5,515.77 L331,515.73 L331.5,515.7 L332,515.66 L332.5,515.62 L333,515.58 L333.5,515.54 L334,515.5 L334.5,515.47 L335,515.43 L335.5,515.39 L336,515.35 L336.5,515.3 L337,515.26 L337.5,515.22 L338,515.18 L338.5,515.14 L339,515.1 L339.5,515.05 L340,515.01 L340.5,514.97 L341,514.92 L341.5,514.88 L342,514.84 L342.5,514.79 L343,514.75 L343.5,514.7 L344,514.66 L344.5,514.61 L345,514.56 L345.5,514.52 L346,514.47 L346.5,514.42 L347,514.37 L347.5,514.33 L348,514.28 L348.5,514.23 L349,514.18 L349.5,514.13 L350,514.08 L350.5,514.03 L351,513.98 L351.5,513.93 L352,513.87 L352.5,513.82 L353,513.77 L353.5,513.71 L354,513.66 L354.5,513.61 L355,513.55 L355.5,513.5 L356,513.44 L356.5,513.39 L357,513.33 L357.5,513.27 L358,513.21 L358.5,513.16 L359,513.1 L359.5,513.04 L360,512.98 L360.5,512.92 L361,512.86 L361.5,512.8 L362,512.74 L362.5,512.67 L363,512.61 L363.5,512.55 L364,512.48 L364.5,512.42 L365,512.35 L365.5,512.29 L366,512.22 L366.5,512.16 L367,512.09 L367.5,512.02 L368,511.95 L368.5,511.88 L369,511.81 L369.5,511.74 L370,511.67 L370.5,511.6 L371,511.53 L371.5,511.45 L372,511.38 L372.5,511.3 L373,511.23 L373.5,511.15 L374,511.08 L374.5,511 L375,510.92 L375.5,510.84 L376,510.76 L376.5,510.68 L377,510.6 L377.5,510.52 L378,510.44 L378.5,510.35 L379,510.27 L379.5,510.18 L380,510.1 L380.5,510.01 L381,509.92 L381.5,509.83 L382,509.74 L382.5,509.65 L383,509.56 L383.5,509.47 L384,509.38 L384.5,509.28 L385,509.19 L385.5,509.09 L386,509 L386.5,508.9 L387,508.8 L387.5,508.7 L388,508.6 L388.5,508.5 L389,508.39 L389.5,508.29 L390,508.18 L390.5,508.08 L391,507.97 L391.5,507.86 L392,507.75 L392.5,507.64 L393,507.53 L393.5,507.42 L394,507.3 L394.5,507.18 L395,507.07 L395.5,506.95 L396,506.83 L396.5,506.71 L397,506.59 L397.5,506.46 L398,506.34 L398.5,506.21 L399,506.09 L399.5,505.96 L400,505.83 L400.5,505.69 L401,505.56 L401.5,505.43 L402,505.29 L402.5,505.15 L403,505.01 L403.5,504.87 L404,504.73 L404.5,504.59 L405,504.44 L405.5,504.29 L406,504.14 L406.5,503.99 L407,503.84 L407.5,503.68 L408,503.53 L408.5,503.37 L409,503.21 L409.5,503.05 L410,502.88 L410.5,502.72 L411,502.55 L411.5,502.38 L412,502.21 L412.5,502.03 L413,501.86 L413.5,501.68 L414,501.5 L414.5,501.31 L415,501.13 L415.5,500.94 L416,500.75 L416.5,500.56 L417,500.36 L417.5,500.17 L418,499.97 L418.5,499.77 L419,499.56 L419.5,499.35 L420,499.14 L420.5,498.93 L421,498.72 L421.5,498.5 L422,498.28 L422.5,498.05 L423,497.83 L423.5,497.6 L424,497.36 L424.5,497.13 L425,496.89 L425.5,496.64 L426,496.4 L426.5,496.15 L427,495.9 L427.5,495.64 L428,495.38 L428.5,495.12 L429,494.85 L429.5,494.58 L430,494.31 L430.5,494.03 L431,493.75 L431.5,493.46 L432,493.17 L432.5,492.88 L433,492.58 L433.5,492.28 L434,491.97 L434.5,491.66 L435,491.35 L435.5,491.03 L436,490.7 L436.5,490.37 L437,490.04 L437.5,489.7 L438,489.35 L438.5,489 L439,488.65 L439.5,488.29 L440,487.92 L440.5,487.55 L441,487.17 L441.5,486.79 L442,486.4 L442.5,486.01 L443,485.61 L443.5,485.2 L444,484.79 L444.5,484.37 L445,483.94 L445.5,483.51 L446,483.07 L446.5,482.62 L447,482.17 L447.5,481.71 L448,481.24 L448.5,480.76 L449,480.28 L449.5,479.79 L450,479.29 L450.5,478.78 L451,478.26 L451.5,477.74 L452,477.2 L452.5,476.66 L453,476.11 L453.5,475.55 L454,474.98 L454.5,474.4 L455,473.8 L455.5,473.2 L456,472.59 L456.5,471.97 L457,471.34 L457.5,470.69 L458,470.04 L458.5,469.37 L459,468.7 L459.5,468.01 L460,467.3 L460.5,466.59 L461,465.86 L461.5,465.12 L462,464.36 L462.5,463.6 L463,462.81 L463.5,462.02 L464,461.21 L464.5,460.38 L465,459.54 L465.5,458.68 L466,457.81 L466.5,456.92 L467,456.01 L467.5,455.09 L468,454.15 L468.5,453.19 L469,452.21 L469.5,451.22 L470,450.2 L470.5,449.17 L471,448.11 L471.5,447.04 L472,445.94 L472.5,444.83 L473,443.69 L473.5,442.53 L474,441.34 L474.5,440.13 L475,438.9 L475.5,437.65 L476,436.37 L476.5,435.06 L477,433.73 L477.5,432.37 L478,430.98 L478.5,429.57 L479,428.13 L479.5,426.66 L480,425.16 L480.5,423.63 L481,422.06 L481.5,420.47 L482,418.84 L482.5,417.19 L483,415.49 L483.5,413.77 L484,412.01 L484.5,410.21 L485,408.38 L485.5,406.51 L486,404.6 L486.5,402.66 L487,400.67 L487.5,398.65 L488,396.58 L488.5,394.48 L489,392.33 L489.5,390.14 L490,387.91 L490.5,385.64 L491,383.32 L491.5,380.96 L492,378.55 L492.5,376.09 L493,373.59 L493.5,371.05 L494,368.45 L494.5,365.81 L495,363.13 L495.5,360.39 L496,357.61 L496.5,354.78 L497,351.9 L497.5,348.97 L498,346 L498.5,342.98 L499,339.91 L499.5,336.8 L500,333.64 L500.5,330.44 L501,327.19 L501.5,323.9 L502,320.57 L502.5,317.2 L503,313.79 L503.5,310.35 L504,306.87 L504.5,303.36 L505,299.82 L505.5,296.25 L506,292.66 L506.5,289.05 L507,285.42 L507.5,281.78 L508,278.12 L508.5,274.47 L509,270.81 L509.5,267.16 L510,263.51 L510.5,259.88 L511,256.27 L511.5,252.69 L512,249.14 L512.5,245.63 L513,242.16 L513.5,238.75 L514,235.39 L514.5,232.11 L515,228.89 L515.5,225.76 L516,222.71 L516.5,219.77 L517,216.92 L517.5,214.19 L518,211.57 L518.5,209.09 L519,206.73 L519.5,204.52 L520,202.45 L520.5,200.54 L521,198.78 L521.5,197.19 L522,195.77 L522.5,194.52 L523,193.45 L523.5,192.57 L524,191.87 L524.5,191.35 L525,191.03 L525.5,190.9 L526,190.95 L526.5,191.2 L527,191.64 L527.5,192.26 L528,193.08 L528.5,194.07 L529,195.25 L529.5,196.6 L530,198.12 L530.5,199.81 L531,201.67 L531.5,203.67 L532,205.83 L532.5,208.13 L533,210.56 L533.5,213.13 L534,215.81 L534.5,218.62 L535,221.52 L535.5,224.53 L536,227.63 L536.5,230.81 L537,234.07 L537.5,237.4 L538,240.79 L538.5,244.24 L539,247.73 L539.5,251.27 L540,254.84 L540.5,258.44 L541,262.06 L541.5,265.7 L542,269.35 L542.5,273 L543,276.66 L543.5,280.32 L544,283.96 L544.5,287.6 L545,291.22 L545.5,294.82 L546,298.4 L546.5,301.95 L547,305.47 L547.5,308.96 L548,312.42 L548.5,315.84 L549,319.23 L549.5,322.58 L550,325.88 L550.5,329.15 L551,332.37 L551.5,335.54 L552,338.67 L552.5,341.76 L553,344.8 L553.5,347.79 L554,350.73 L554.5,353.63 L555,356.48 L555.5,359.28 L556,362.04 L556.5,364.74 L557,367.4 L557.5,370.02 L558,372.58 L558.5,375.1 L559,377.57 L559.5,380 L560,382.38 L560.5,384.72 L561,387.01 L561.5,389.26 L562,391.46 L562.5,393.63 L563,395.75 L563.5,397.83 L564,399.87 L564.5,401.87 L565,403.83 L565.5,405.75 L566,407.63 L566.5,409.48 L567,411.29 L567.5,413.07 L568,414.81 L568.5,416.51 L569,418.19 L569.5,419.82 L570,421.43 L570.5,423 L571,424.55 L571.5,426.06 L572,427.54 L572.5,429 L573,430.42 L573.5,431.82 L574,433.19 L574.5,434.53 L575,435.85 L575.5,437.14 L576,438.4 L576.5,439.64 L577,440.86 L577.5,442.05 L578,443.22 L578.5,444.37 L579,445.5 L579.5,446.6 L580,447.69 L580.5,448.75 L581,449.79 L581.5,450.81 L582,451.82 L582.5,452.8 L583,453.77 L583.5,454.71 L584,455.64 L584.5,456.56 L585,457.45 L585.5,458.33 L586,459.2 L586.5,460.04 L587,460.88 L587.5,461.69 L588,462.5 L588.5,463.28 L589,464.06 L589.5,464.82 L590,465.56 L590.5,466.3 L591,467.02 L591.5,467.73 L592,468.42 L592.5,469.1 L593,469.77 L593.5,470.43 L594,471.08 L594.5,471.72 L595,472.35 L595.5,472.96 L596,473.57 L596.5,474.16 L597,474.74" fill="none" stroke="#111" stroke-width="1.8" stroke-dasharray="5.4,2.8"/>
</g>
<path d="M67.3,50.5 H684.5 V518.9 H67.3 Z" fill="none" stroke="#404040" stroke-width="1.1"/>
<path d="M62,428.66 H67.3 M62,334.12 H67.3 M62,239.58 H67.3 M62,145.04 H67.3 M62,50.5 H67.3 M111.6,518.9 V524.4 M199.75,518.9 V524.4 M287.9,518.9 V524.4 M376.05,518.9 V524.4 M464.2,518.9 V524.4 M552.35,518.9 V524.4 M640.5,518.9 V524.4" stroke="#404040" stroke-width="1.1"/>
<text x="54.4" y="434.36" font-size="15.7" text-anchor="end" textLength="18.6" lengthAdjust="spacingAndGlyphs" >20</text>
<text x="54.4" y="339.82" font-size="15.7" text-anchor="end" textLength="18.6" lengthAdjust="spacingAndGlyphs" >40</text>
<text x="54.4" y="245.28" font-size="15.7" text-anchor="end" textLength="18.6" lengthAdjust="spacingAndGlyphs" >60</text>
<text x="54.4" y="150.74" font-size="15.7" text-anchor="end" textLength="18.6" lengthAdjust="spacingAndGlyphs" >80</text>
<text x="54.4" y="56.2" font-size="15.7" text-anchor="end" textLength="28" lengthAdjust="spacingAndGlyphs" >100</text>
<text x="111.8" y="543.2" font-size="15.7" text-anchor="middle" textLength="28.8" lengthAdjust="spacingAndGlyphs" >100</text>
<text x="199.95" y="543.2" font-size="15.7" text-anchor="middle" textLength="28.8" lengthAdjust="spacingAndGlyphs" >200</text>
<text x="288.1" y="543.2" font-size="15.7" text-anchor="middle" textLength="28.8" lengthAdjust="spacingAndGlyphs" >300</text>
<text x="376.25" y="543.2" font-size="15.7" text-anchor="middle" textLength="28.8" lengthAdjust="spacingAndGlyphs" >400</text>
<text x="464.4" y="543.2" font-size="15.7" text-anchor="middle" textLength="28.8" lengthAdjust="spacingAndGlyphs" >500</text>
<text x="552.55" y="543.2" font-size="15.7" text-anchor="middle" textLength="28.8" lengthAdjust="spacingAndGlyphs" >600</text>
<text x="640.7" y="543.2" font-size="15.7" text-anchor="middle" textLength="28.8" lengthAdjust="spacingAndGlyphs" >700</text>
<text x="376.3" y="568.9" font-size="17.4" text-anchor="middle" textLength="68" lengthAdjust="spacingAndGlyphs" >TOF (ns)</text>
<text transform="translate(14.7,275.7) rotate(-90)" x="0" y="0" font-size="17.8" text-anchor="middle" textLength="59.2" lengthAdjust="spacingAndGlyphs">Counts</text>
<text x="374.3" y="16.1" font-size="18.6" text-anchor="middle" textLength="202.6" lengthAdjust="spacingAndGlyphs" >Distant magnetosheath</text>
<text x="376" y="42.4" font-size="18" text-anchor="middle" textLength="144.3" lengthAdjust="spacingAndGlyphs" >12:47:17–13:04:55</text>
<text x="104" y="293.8" font-size="17.6">H</text><text x="116.2" y="285.2" font-size="10.5">+</text>
<text x="402.9" y="251.4" font-size="17.6" textLength="14.9" lengthAdjust="spacingAndGlyphs">O</text><text x="417.9" y="242.6" font-size="10.5">+</text>
<text x="451.2" y="334.5" font-size="17.6">C</text><text x="465" y="326" font-size="10.5">+</text>
<text x="494.3" y="125.2" font-size="17.6" textLength="15.2" lengthAdjust="spacingAndGlyphs">O</text><text x="509.2" y="117.4" font-size="10.5">+</text>
<path d="M112.9,301.4 V318" stroke="#3d4b63" stroke-width="1.4"/><path d="M112.9,321 L110.7,314.4 L112.9,315.8 L115.1,314.4 Z" fill="#3d4b63"/>
<path d="M413.5,258.9 V276.3" stroke="#3d4b63" stroke-width="1.4"/><path d="M413.5,279.3 L411.3,272.7 L413.5,274.1 L415.7,272.7 Z" fill="#3d4b63"/>
<path d="M461.5,342.8 V359.7" stroke="#3d4b63" stroke-width="1.4"/><path d="M461.5,362.7 L459.3,356.1 L461.5,357.5 L463.7,356.1 Z" fill="#3d4b63"/>
<path d="M504.9,133.4 V150" stroke="#3d4b63" stroke-width="1.4"/><path d="M504.9,153 L502.7,146.4 L504.9,147.8 L507.1,146.4 Z" fill="#3d4b63"/>
<text transform="translate(309.2,275.3) rotate(-90)" font-size="17.4" text-anchor="middle" textLength="54.5" lengthAdjust="spacingAndGlyphs">C<tspan font-size="10" dy="-7.5">+</tspan><tspan dy="7.5"> and</tspan></text>
<text transform="translate(329,274.7) rotate(-90)" font-size="17.4" text-anchor="middle" textLength="180.2" lengthAdjust="spacingAndGlyphs">multiply charged ions</text>
<rect x="252.4" y="57.5" width="421.1" height="45.9" rx="1.8" ry="1.8" fill="#fff" fill-opacity="0.8" stroke="#5e5e5e" stroke-width="1"/>
<path d="M257.3,69.1 H274.1" stroke="#bdbdbd" stroke-width="1.6"/>
<path d="M257.3,90 H274.1" stroke="#1f77b4" stroke-width="2"/>
<path d="M514.1,69.2 H531" stroke="#006400" stroke-width="2"/>
<path d="M514.1,89.7 H531" stroke="#ff8c00" stroke-width="2"/>
<text x="283" y="74.5" font-size="14.2" text-anchor="start" textLength="63.3" lengthAdjust="spacingAndGlyphs" >Raw data</text>
<text x="282.3" y="94.8" font-size="14.2" text-anchor="start" textLength="207.6" lengthAdjust="spacingAndGlyphs" >Binning over 24 TOF channels</text>
<text x="538.6" y="74.3" font-size="14.2" textLength="129.5" lengthAdjust="spacingAndGlyphs">O<tspan font-size="8.5" dy="-7">+</tspan><tspan dy="7"> calibration data</tspan></text>
<text x="538.6" y="94.7" font-size="14.2" textLength="128.2" lengthAdjust="spacingAndGlyphs">C<tspan font-size="8.5" dy="-7">+</tspan><tspan dy="7"> calibration data</tspan></text>
</svg></body></html>
